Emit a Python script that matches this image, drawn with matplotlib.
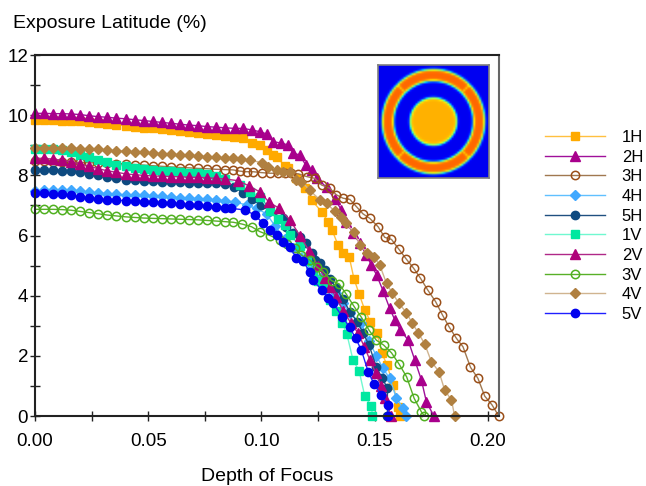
import numpy as np
import matplotlib
matplotlib.use("Agg")
import matplotlib.pyplot as plt
from matplotlib.ticker import MultipleLocator, FixedLocator

plt.rcParams['font.family'] = ['Liberation Sans', 'DejaVu Sans']

# flat part of every curve is sampled on the same depth-of-focus grid
dof_flat = [0.000, 0.004, 0.008, 0.012, 0.016, 0.020, 0.024, 0.028, 0.032, 0.036, 0.040,
            0.044, 0.048, 0.052, 0.056, 0.060, 0.064, 0.068, 0.072, 0.076, 0.080, 0.084]

# 1H
el_1h = [9.83, 9.83, 9.83, 9.82, 9.82, 9.80, 9.77, 9.74, 9.71, 9.68, 9.65, 9.62, 9.59, 9.56,
         9.53, 9.50, 9.47, 9.44, 9.41, 9.38, 9.35, 9.32,
         9.29, 9.24, 9.07, 9.01, 8.85, 8.68, 8.62, 8.31, 8.23, 7.90, 7.57, 7.18, 6.79, 6.46,
         6.19, 5.68, 5.41, 5.30, 4.57, 4.06, 3.52, 3.14, 2.75, 2.08, 1.70, 1.03, 0.31, 0.0]
dof_1h = dof_flat + [0.088, 0.092, 0.0957, 0.0993, 0.1025, 0.1052, 0.1067, 0.1104, 0.1118,
                     0.1155, 0.1192, 0.1222, 0.1266, 0.1295, 0.1312, 0.1339, 0.1361, 0.1388,
                     0.1409, 0.1432, 0.1457, 0.1482, 0.1511, 0.1533, 0.1555, 0.1583, 0.1604,
                     0.1614]

# 2H
el_2h = [10.06, 10.06, 10.05, 10.05, 10.04, 10.02, 9.98, 9.95, 9.93, 9.90, 9.88, 9.85, 9.82,
         9.79, 9.76, 9.73, 9.70, 9.67, 9.65, 9.62, 9.60, 9.58,
         9.56, 9.56, 9.51, 9.45, 9.37, 9.12, 9.07, 9.01, 8.73, 8.68, 8.34, 8.18, 7.90, 7.60,
         7.20, 6.85, 6.46, 6.07, 5.74, 5.35, 5.02, 4.69, 4.16, 3.58, 3.19, 2.86, 2.53, 1.86,
         1.20, 0.48, 0.0]
dof_2h = dof_flat + [0.0883, 0.092, 0.0957, 0.0993, 0.1026, 0.1052, 0.1089, 0.1118, 0.1141,
                     0.117, 0.1196, 0.1222, 0.1247, 0.1288, 0.1325, 0.1354, 0.1376, 0.1405,
                     0.1435, 0.1464, 0.1486, 0.1509, 0.1538, 0.1567, 0.159, 0.1614, 0.1648,
                     0.1678, 0.1707, 0.1729, 0.1762]

# 3H
el_3h = [8.46, 8.46, 8.45, 8.45, 8.44, 8.43, 8.42, 8.41, 8.40, 8.39, 8.38, 8.36, 8.34, 8.32,
         8.30, 8.28, 8.26, 8.25, 8.23, 8.22, 8.20, 8.19,
         8.18, 8.14, 8.12, 8.12, 8.09, 8.07, 8.07, 8.07, 8.07, 8.05, 7.96, 7.90, 7.68, 7.57,
         7.35, 7.24, 7.20, 6.96, 6.72, 6.57, 6.29, 5.94, 5.87, 5.54, 5.21, 4.91, 4.58, 4.19,
         3.80, 3.36, 2.97, 2.58, 2.30, 1.62, 1.25, 0.66, 0.37, 0.0]
dof_3h = dof_flat + [0.0876, 0.0905, 0.0935, 0.0964, 0.1001, 0.1038, 0.1074, 0.1104, 0.1133,
                     0.1163, 0.12, 0.1236, 0.1266, 0.1302, 0.1332, 0.1361, 0.1391, 0.142,
                     0.1449, 0.1479, 0.1516, 0.1545, 0.1575, 0.1608, 0.1641, 0.1673, 0.1703,
                     0.1735, 0.177, 0.18, 0.1829, 0.1862, 0.1891, 0.1924, 0.1957, 0.1987,
                     0.2019, 0.2049]

# 4H
el_4h = [7.48, 7.50, 7.52, 7.52, 7.50, 7.47, 7.44, 7.41, 7.39, 7.37, 7.35, 7.34, 7.33, 7.31,
         7.30, 7.28, 7.26, 7.24, 7.22, 7.20, 7.18, 7.15,
         7.12, 7.01, 6.90, 6.72, 6.30, 5.90, 5.60, 5.28, 4.92, 4.58, 4.26, 4.08, 3.75, 3.41,
         3.08, 2.50, 2.00, 1.58, 1.25, 0.59, 0.26, 0.0]
dof_4h = dof_flat + [0.0883, 0.0935, 0.0979, 0.1023, 0.1062, 0.1104, 0.114, 0.118, 0.122,
                     0.126, 0.13, 0.1332, 0.1361, 0.1391, 0.1442, 0.1475, 0.1508, 0.1538,
                     0.1567, 0.1597, 0.1626, 0.1638]

# 5H
el_5h = [8.18, 8.18, 8.17, 8.16, 8.14, 8.10, 8.05, 8.00, 7.95, 7.90, 7.86, 7.84, 7.82, 7.80,
         7.79, 7.78, 7.77, 7.76, 7.76, 7.75, 7.74, 7.70,
         7.62, 7.40, 7.20, 7.00, 6.80, 6.57, 6.29, 6.07, 5.96, 5.74, 5.41, 5.19, 5.07, 4.85,
         4.55, 4.24, 3.88, 3.47, 3.14, 2.75, 2.36, 1.62, 1.25, 0.92, 0.0]
dof_5h = dof_flat + [0.088, 0.092, 0.096, 0.100, 0.104, 0.1096, 0.1111, 0.114, 0.117, 0.1196,
                     0.1222, 0.1235, 0.1258, 0.128, 0.1305, 0.1332, 0.1361, 0.1391, 0.1423,
                     0.145, 0.1476, 0.1508, 0.1535, 0.1557, 0.1557]

# 1V
el_1v = [8.88, 8.88, 8.87, 8.85, 8.78, 8.68, 8.60, 8.52, 8.44, 8.36, 8.30, 8.25, 8.20, 8.17,
         8.15, 8.13, 8.11, 8.09, 8.07, 8.04, 7.98, 7.88,
         7.68, 7.46, 7.29, 6.80, 6.55, 6.35, 6.02, 5.65, 5.15, 4.80, 4.50, 4.24, 3.86, 3.50,
         3.08, 2.72, 1.86, 1.50, 0.66, 0.33, 0.0]
dof_1v = dof_flat + [0.0905, 0.0949, 0.0993, 0.1038, 0.1074, 0.1104, 0.1126, 0.117, 0.12,
                     0.1229, 0.1252, 0.1273, 0.1302, 0.1329, 0.1358, 0.1378, 0.1405, 0.1432,
                     0.1457, 0.1486, 0.1491]

# 2V
el_2v = [8.57, 8.56, 8.54, 8.50, 8.45, 8.38, 8.30, 8.22, 8.15, 8.10, 8.05, 8.02, 8.00, 7.98,
         7.97, 7.96, 7.95, 7.94, 7.93, 7.92, 7.90, 7.88,
         7.82, 7.65, 7.45, 7.10, 6.90, 6.52, 6.00, 5.50, 5.00, 4.60, 4.30, 3.95, 3.50, 3.10,
         2.75, 2.30, 1.86, 1.42, 1.00, 0.59, 0.0]
dof_2v = dof_flat + [0.0898, 0.0945, 0.0993, 0.1035, 0.108, 0.1126, 0.117, 0.121, 0.125,
                     0.128, 0.1302, 0.133, 0.1361, 0.1395, 0.1428, 0.1455, 0.148, 0.1506,
                     0.153, 0.1545, 0.1575]

# 3V
el_3v = [6.87, 6.87, 6.87, 6.86, 6.84, 6.80, 6.76, 6.72, 6.68, 6.65, 6.62, 6.60, 6.58, 6.57,
         6.56, 6.55, 6.54, 6.53, 6.52, 6.50, 6.48, 6.46,
         6.44, 6.38, 6.29, 6.13, 6.00, 5.85, 5.72, 5.57, 5.35, 5.19, 4.96, 4.80, 4.50, 4.39,
         4.04, 3.66, 3.28, 2.85, 2.52, 2.36, 2.10, 1.72, 1.30, 0.59, 0.14, 0.0]
dof_3v = dof_flat + [0.0876, 0.0915, 0.0957, 0.0993, 0.1038, 0.1082, 0.1115, 0.1148, 0.1177,
                     0.1214, 0.1244, 0.1273, 0.131, 0.1344, 0.1376, 0.1408, 0.1442, 0.1476,
                     0.1508, 0.154, 0.1575, 0.1609, 0.1642, 0.1675, 0.1707, 0.172]

# 4V
el_4v = [8.92, 8.92, 8.91, 8.90, 8.90, 8.89, 8.88, 8.86, 8.84, 8.82, 8.80, 8.78, 8.76, 8.74,
         8.72, 8.70, 8.68, 8.66, 8.64, 8.62, 8.60, 8.58,
         8.56, 8.53, 8.51, 8.42, 8.29, 8.18, 8.12, 8.12, 7.85, 7.79, 7.51, 7.18, 7.07, 6.80,
         6.63, 6.40, 6.10, 5.68, 5.41, 5.30, 5.02, 4.41, 4.08, 3.75, 3.43, 3.08, 2.77, 2.39,
         1.81, 1.47, 0.86, 0.53, 0.0]
dof_4v = dof_flat + [0.0876, 0.0912, 0.0949, 0.1001, 0.103, 0.1067, 0.1096, 0.1126, 0.1155,
                     0.1177, 0.1214, 0.1258, 0.1288, 0.1325, 0.1354, 0.1376, 0.1408, 0.1438,
                     0.1467, 0.1497, 0.1523, 0.1553, 0.1579, 0.1608, 0.1641, 0.1667, 0.1693,
                     0.1722, 0.1751, 0.1785, 0.181, 0.184, 0.1854]

# 5V
el_5v = [7.40, 7.40, 7.39, 7.37, 7.33, 7.28, 7.24, 7.20, 7.18, 7.17, 7.16, 7.15, 7.13, 7.11,
         7.09, 7.07, 7.05, 7.03, 7.00, 6.98, 6.96, 6.93,
         6.90, 6.85, 6.68, 6.40, 6.18, 6.02, 5.79, 5.63, 5.24, 5.16, 4.80, 4.52, 4.19, 3.91,
         3.75, 3.30, 2.95, 2.58, 2.19, 1.47, 1.08, 0.70, 0.37, 0.0]
dof_5v = dof_flat + [0.0868, 0.0927, 0.0971, 0.1008, 0.1038, 0.1067, 0.1096, 0.1126, 0.1155,
                     0.1182, 0.1214, 0.1229, 0.1266, 0.1295, 0.1317, 0.1358, 0.139, 0.1417,
                     0.1442, 0.1472, 0.1497, 0.153, 0.156, 0.156]

labels = ['1H', '2H', '3H', '4H', '5H', '1V', '2V', '3V', '4V', '5V']
xs = [dof_1h, dof_2h, dof_3h, dof_4h, dof_5h, dof_1v, dof_2v, dof_3v, dof_4v, dof_5v]
ys = [el_1h, el_2h, el_3h, el_4h, el_5h, el_1v, el_2v, el_3v, el_4v, el_5v]

# (line colour, marker colour, marker, marker size, filled)
styles = [
    ('#FFC040', '#FFAA00', 's', 5.5, True),
    ('#A0109A', '#A8008C', '^', 7.0, True),
    ('#A07850', '#9A4E18', 'o', 6.0, False),
    ('#60C0FF', '#40A8FF', 'D', 5.0, True),
    ('#205080', '#0E4A80', 'o', 6.0, True),
    ('#70F8D0', '#00E8A0', 's', 5.5, True),
    ('#B02888', '#B0007A', '^', 7.0, True),
    ('#58B028', '#50B020', 'o', 6.0, False),
    ('#D0B490', '#B08040', 'D', 5.0, True),
    ('#2020FF', '#0000EE', 'o', 6.0, True),
]

fig = plt.figure(figsize=(6.46, 4.86), dpi=100)
ax = fig.add_axes([35 / 646, 70 / 486, 464 / 646, 361 / 486])

handles = []
for x, y, lab, (lc, mc, mk, ms, filled) in zip(xs, ys, labels, styles):
    h, = ax.plot(x, y, color=lc, lw=1.0, marker=mk, ms=ms,
                 markerfacecolor=mc if filled else 'none',
                 markeredgecolor=mc, markeredgewidth=1.0 if filled else 1.1,
                 clip_on=False, label=lab)
    handles.append(h)

ax.set_xlim(0, 0.205)
ax.set_ylim(0, 12)
ax.xaxis.set_major_locator(FixedLocator([0, 0.05, 0.10, 0.15, 0.20]))
ax.set_xticklabels(['0.00', '0.05', '0.10', '0.15', '0.20'])
ax.xaxis.set_minor_locator(MultipleLocator(0.025))
ax.yaxis.set_major_locator(MultipleLocator(2))
ax.yaxis.set_minor_locator(MultipleLocator(1))
ax.tick_params(which='both', direction='inout', length=7, width=1.0, color='#222222')
ax.tick_params(axis='x', which='major', labelsize=13.5, pad=9)
ax.tick_params(axis='y', which='major', labelsize=13.5, pad=1.5)
for s in ax.spines.values():
    s.set_linewidth(1.5)
    s.set_color('#222222')
ax.spines['right'].set_color('#666666')

ax.set_xlabel('Depth of Focus', fontsize=14, labelpad=12.5)
fig.text(13 / 646, 1 - 23 / 486, 'Exposure Latitude (%)', fontsize=14, va='center', ha='left')

fig.legend(handles, labels, loc='upper left', bbox_to_anchor=(545 / 646, 1 - 130 / 486),
           frameon=False, fontsize=12, handlelength=3.6, handletextpad=1.0,
           labelspacing=0.28, borderpad=0, borderaxespad=0)

# inset: mask picture (rings rendered with jet colours)
n_pix = 56
ring_out, ring_in, core_r, edge_w = 0.94, 0.73, 0.43, 0.012
g = np.linspace(-1, 1, n_pix)
gx, gy = np.meshgrid(g, g)
r = np.hypot(gx, gy)
ang = np.mod(np.arctan2(gy, gx) - np.pi / 4, np.pi / 2)
ang = np.minimum(ang, np.pi / 2 - ang)
step = lambda d: 1 / (1 + np.exp(-d / edge_w))
ring = step(ring_out - r) * step(r - ring_in)
ring = ring * (1 - 0.14 * np.exp(-(ang / 0.025) ** 2))
core = step(core_r - r)
img = 0.1 + 0.70 * ring + 0.62 * core

iax = fig.add_axes([378 / 646, 1 - 178 / 486, 111 / 646, 113 / 486])
iax.imshow(img, cmap='jet', vmin=0, vmax=1, interpolation='bilinear', aspect='auto')
iax.set_xticks([])
iax.set_yticks([])
for s in iax.spines.values():
    s.set_color('#808080')
    s.set_linewidth(1.2)

fig.savefig('out.png', dpi=100)
